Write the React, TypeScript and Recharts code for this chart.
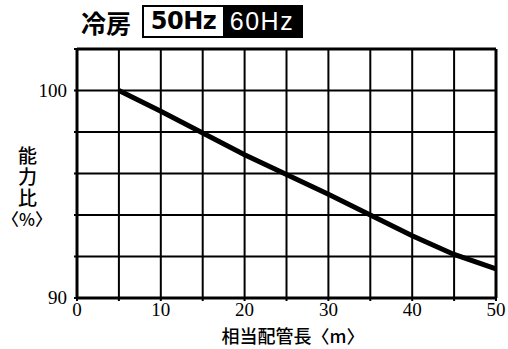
import React from "react";
import {
  LineChart,
  Line,
  XAxis,
  YAxis,
  CartesianGrid,
  ReferenceLine,
} from "recharts";

// equivalent pipe length (m) vs capacity ratio (%), cooling 50Hz
const pipeLengths = [5, 10, 20, 30, 40, 45, 50];
const capacityRatios = [100, 99, 96.9, 95, 93, 92.1, 91.4];

const xTicks = [0, 5, 10, 15, 20, 25, 30, 35, 40, 45, 50];
const xLabeledTicks = [0, 10, 20, 30, 40, 50];
const yTicks = [90, 92, 94, 96, 98, 100, 102];
const yLabeledTicks = [90, 100];

const titleText = "冷房";
const hz50 = "50Hz";
const hz60 = "60Hz";
const xAxisTitle = "相当配管長〈m〉";
const yAxisTitle = "能力比";
const yAxisUnit = "〈%〉";

const data = pipeLengths.map((len, i) => ({ len, ratio: capacityRatios[i] }));

const serif = "'Liberation Serif', 'DejaVu Serif', serif";
const cjk = "'Noto Sans CJK JP', sans-serif";

// tick renderers with an explicit serif face
const XTick = (props: any) => {
  const { x, y, payload } = props;
  if (!xLabeledTicks.includes(payload.value)) return <g />;
  return (
    <text x={x} y={y + 15} textAnchor="middle" fontFamily={serif} fontSize={19} fill="#000">
      {payload.value}
    </text>
  );
};

const YTick = (props: any) => {
  const { x, y, payload } = props;
  if (!yLabeledTicks.includes(payload.value)) return <g />;
  return (
    <text x={x - 7} y={y + 6} textAnchor="end" fontFamily={serif} fontSize={19} fill="#000">
      {payload.value}
    </text>
  );
};

export default function App() {
  return (
    <div
      style={{
        position: "absolute",
        left: 0,
        top: 0,
        width: 508,
        height: 349,
        background: "#fff",
        overflow: "hidden",
      }}
    >
      {/* Title */}
      <div
        style={{
          position: "absolute",
          left: 81,
          top: 6,
          fontFamily: cjk,
          fontWeight: 700,
          fontSize: 25,
          lineHeight: "32px",
          color: "#000",
        }}
      >
        {titleText}
      </div>
      <div
        style={{
          position: "absolute",
          left: 142,
          top: 5,
          width: 161,
          height: 33,
          boxSizing: "border-box",
          border: "2px solid #000",
          display: "flex",
        }}
      >
        <div
          style={{
            width: 79,
            background: "#fff",
            color: "#000",
            fontFamily: "'DejaVu Sans', sans-serif",
            fontWeight: 700,
            fontSize: 24,
            lineHeight: "29px",
            textAlign: "center",
            letterSpacing: -0.5,
          }}
        >
          {hz50}
        </div>
        <div
          style={{
            flex: 1,
            background: "#000",
            color: "#fff",
            fontFamily: "'Liberation Sans', sans-serif",
            fontWeight: 400,
            fontSize: 25,
            lineHeight: "29px",
            textAlign: "center",
            letterSpacing: 1.5,
          }}
        >
          {hz60}
        </div>
      </div>

      {/* Y axis title, stacked vertically */}
      <div
        style={{
          position: "absolute",
          left: 17,
          top: 146,
          writingMode: "vertical-rl",
          fontFamily: cjk,
          fontWeight: 500,
          fontSize: 19,
          letterSpacing: 2,
          lineHeight: "20px",
          color: "#000",
        }}
      >
        {yAxisTitle}
      </div>
      <div
        style={{
          position: "absolute",
          left: 2,
          top: 209,
          width: 50,
          textAlign: "center",
          fontFamily: cjk,
          fontWeight: 500,
          fontSize: 17,
          lineHeight: "20px",
          color: "#000",
        }}
      >
        {yAxisUnit}
      </div>

      {/* X axis title */}
      <div
        style={{
          position: "absolute",
          left: 193,
          top: 325,
          width: 200,
          textAlign: "center",
          fontFamily: cjk,
          fontWeight: 500,
          fontSize: 18,
          lineHeight: "21px",
          color: "#000",
        }}
      >
        {xAxisTitle}
      </div>

      <div style={{ position: "absolute", left: 0, top: 0 }}>
        <LineChart
          width={508}
          height={349}
          data={data}
          margin={{ top: 49, right: 12, bottom: 21, left: 17 }}
        >
          <CartesianGrid stroke="#000" strokeWidth={2} />
          <XAxis
            type="number"
            dataKey="len"
            domain={[0, 50]}
            ticks={xTicks}
            interval={0}
            height={30}
            tick={<XTick />}
            tickSize={3}
            tickMargin={0}
            tickLine={{ stroke: "#000", strokeWidth: 2 }}
            axisLine={{ stroke: "#000", strokeWidth: 3 }}
          />
          <YAxis
            type="number"
            domain={[90, 102]}
            ticks={yTicks}
            interval={0}
            width={60}
            tick={<YTick />}
            tickSize={3}
            tickMargin={0}
            tickLine={{ stroke: "#000", strokeWidth: 2 }}
            axisLine={{ stroke: "#000", strokeWidth: 3 }}
          />
          <ReferenceLine y={102} stroke="#000" strokeWidth={3} />
          <ReferenceLine x={50} stroke="#000" strokeWidth={3} />
          <Line
            type="linear"
            dataKey="ratio"
            stroke="#000"
            strokeWidth={5}
            dot={false}
            isAnimationActive={false}
          />
        </LineChart>
      </div>
    </div>
  );
}
